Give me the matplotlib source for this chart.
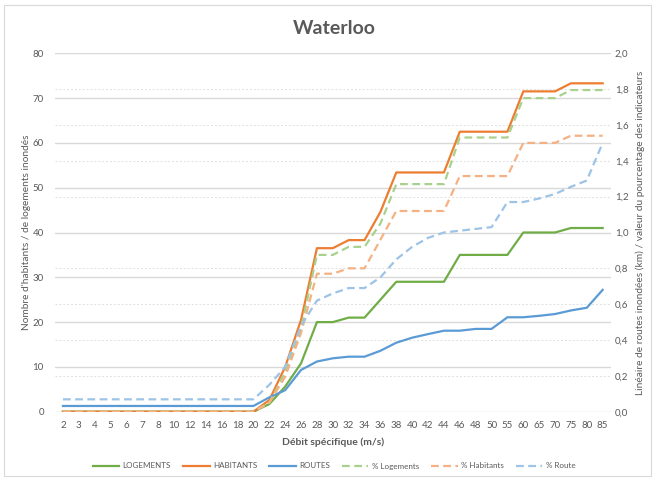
import matplotlib
matplotlib.use("Agg")
import matplotlib.pyplot as plt
from matplotlib.ticker import MultipleLocator, FuncFormatter
from matplotlib.patches import Rectangle

plt.rcParams['font.family'] = ['Lato', 'DejaVu Sans']

x_labels = ['2', '3', '4', '5', '6', '7', '8', '10', '12', '14', '16', '18', '20',
            '22', '24', '26', '28', '30', '32', '34', '36', '38', '40', '42', '44',
            '46', '48', '50', '55', '60', '65', '70', '75', '80', '85']

logements = [0] * 13 + [1.7, 5.6, 10.8, 20, 20, 21, 21, 25, 29, 29, 29, 29,
                        35, 35, 35, 35, 40, 40, 40, 41, 41, 41]
habitants = [0] * 13 + [2.6, 10, 20.5, 36.5, 36.5, 38.3, 38.3, 44.6, 53.4, 53.4, 53.4, 53.4,
                        62.5, 62.5, 62.5, 62.5, 71.5, 71.5, 71.5, 73.3, 73.3, 73.3]
routes = [0.032] * 13 + [0.08, 0.12, 0.233, 0.28, 0.298, 0.307, 0.307, 0.34, 0.385, 0.413,
                         0.433, 0.452, 0.452, 0.462, 0.462, 0.527, 0.527, 0.535, 0.545,
                         0.565, 0.58, 0.68]
pct_logements = [0] * 13 + [0.05, 0.22, 0.465, 0.875, 0.875, 0.92, 0.92, 1.05, 1.27, 1.27,
                            1.27, 1.27, 1.53, 1.53, 1.53, 1.53, 1.75, 1.75, 1.75, 1.795,
                            1.795, 1.795]
pct_habitants = [0] * 13 + [0.05, 0.195, 0.44, 0.77, 0.77, 0.80, 0.80, 0.96, 1.12, 1.12,
                            1.12, 1.12, 1.315, 1.315, 1.315, 1.315, 1.5, 1.5, 1.5, 1.54,
                            1.54, 1.54]
pct_route = [0.069] * 13 + [0.15, 0.25, 0.48, 0.62, 0.66, 0.69, 0.69, 0.75, 0.85, 0.92,
                            0.97, 1.0, 1.01, 1.02, 1.03, 1.17, 1.17, 1.19, 1.215, 1.255,
                            1.29, 1.5]

GREEN, ORANGE, BLUE = '#70AD47', '#ED7D31', '#5B9BD5'
LGREEN, LORANGE, LBLUE = '#A9D18E', '#F4B183', '#9DC3E6'
TXT = '#595959'

fig = plt.figure(figsize=(6.55, 4.78), dpi=100)
W, H = 655, 478
ax = fig.add_axes([55 / W, 1 - 411.7 / H, (610.6 - 55) / W, (411.7 - 53.3) / H])
ax2 = ax.twinx()

fig.patches.append(Rectangle((4 / W, 2 / H), 647 / W, 471 / H, transform=fig.transFigure,
                             fill=False, edgecolor='#d9d9d9', linewidth=0.8))

xs = list(range(len(x_labels)))
lw = 1.6
dash = (0, (3.5, 2))

l1, = ax.plot(xs, logements, color=GREEN, lw=lw, label='LOGEMENTS')
l2, = ax.plot(xs, habitants, color=ORANGE, lw=lw, label='HABITANTS')
l3, = ax2.plot(xs, routes, color=BLUE, lw=lw, label='ROUTES')
l4, = ax2.plot(xs, pct_logements, color=LGREEN, lw=lw, ls=dash, label='% Logements')
l5, = ax2.plot(xs, pct_habitants, color=LORANGE, lw=lw, ls=dash, label='% Habitants')
l6, = ax2.plot(xs, pct_route, color=LBLUE, lw=lw, ls=dash, label='% Route')

ax.set_xlim(-0.5, len(xs) - 0.5)
ax.set_ylim(0, 80)
ax2.set_ylim(0, 2.0)
ax.yaxis.set_major_locator(MultipleLocator(10))
ax.yaxis.set_minor_locator(MultipleLocator(8))
ax2.yaxis.set_major_locator(MultipleLocator(0.2))
ax2.yaxis.set_major_formatter(FuncFormatter(lambda v, p: f"{v:.1f}".replace('.', ',')))

ax.set_axisbelow(True)
ax.grid(which='major', axis='y', color='#d9d9d9', lw=1.0, ls='-')
ax.grid(which='minor', axis='y', color='#e0e0e0', lw=0.7, ls=(0, (2, 2)))
ax.grid(axis='x', visible=False)

ax.set_xticks(xs)
ax.set_xticklabels(x_labels)
for a in (ax, ax2):
    for s in a.spines.values():
        s.set_visible(False)
ax.tick_params(axis='both', which='both', length=0, labelsize=7, colors=TXT)
ax.tick_params(axis='y', pad=8)
ax.tick_params(axis='x', pad=7)
ax2.tick_params(axis='y', length=0, labelsize=7, colors=TXT, pad=3)

ax.set_xlabel('Débit spécifique (m/s)', fontsize=7.5, fontweight='bold', color=TXT, labelpad=5)
ax.set_ylabel("Nombre d'habitants / de logements inondés", fontsize=7.3, color=TXT, labelpad=1)
ax2.set_ylabel("Linéaire de routes inondées (km) / valeur du pourcentage des indicateurs",
               fontsize=7.3, color=TXT, labelpad=5)

fig.text(334 / W, 1 - 28 / H, 'Waterloo', ha='center', va='center', fontsize=14,
         fontweight='bold', color=TXT)

fig.legend(handles=[l1, l2, l3, l4, l5, l6], loc='center', bbox_to_anchor=(334 / W, 1 - 466 / H),
           ncol=6, frameon=False, fontsize=5.8, handlelength=3.3, handletextpad=0.4,
           columnspacing=1.5, labelcolor=TXT)

fig.savefig('out.png', dpi=100)
